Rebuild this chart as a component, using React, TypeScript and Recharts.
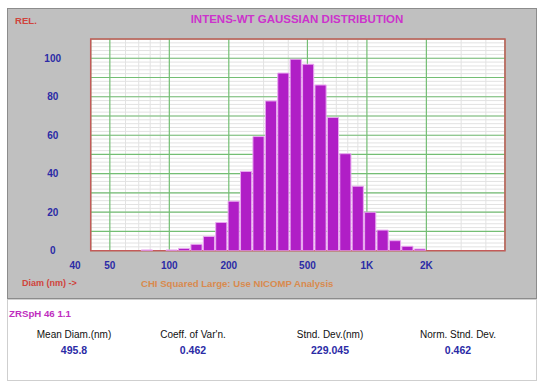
import React from 'react';
import { BarChart, Bar, XAxis, YAxis, CartesianGrid, ReferenceArea } from 'recharts';

// bin centres (nm), log spaced, and relative intensity
const diameters = [76.6, 88.5, 102.3, 118.2, 136.6, 157.9, 182.4, 210.8, 243.6, 281.5, 325.3, 375.9, 434.4, 502.0, 580.1, 670.4, 774.7, 895.2, 1034.5, 1195.5, 1381.5, 1596.5, 1844.9];
const intensity = [0.4, 0, 0.4, 1.2, 3.3, 7.4, 14.7, 25.7, 41.2, 59.3, 77.8, 92.3, 99.5, 96.9, 86.1, 69.2, 50.4, 33.5, 20.0, 10.7, 5.2, 2.3, 0.9];

const xLabelTicks = [40, 50, 100, 200, 500, 1000, 2000];
const xMinorTicks = [60, 70, 80, 90, 300, 400, 600, 700, 800, 900, 3000, 4000];
const yLabelTicks = [0, 20, 40, 60, 80, 100];
const yMajorTicks = [0, 10, 20, 30, 40, 50, 60, 70, 80, 90, 100, 110];
const yMinorTicks = [0, 2, 4, 6, 8, 10, 12, 14, 16, 18, 20, 22, 24, 26, 28, 30, 32, 34, 36, 38, 40, 42, 44, 46, 48, 50, 52, 54, 56, 58, 60, 62, 64, 66, 68, 70, 72, 74, 76, 78, 80, 82, 84, 86, 88, 90, 92, 94, 96, 98, 100, 102, 104, 106, 108, 110];

const sampleName = 'ZRSpH 46 1.1';
const statLabels = ['Mean Diam.(nm)', "Coeff. of Var'n.", 'Stnd. Dev.(nm)', 'Norm. Stnd. Dev.'];
const statValues = ['495.8', '0.462', '229.045', '0.462'];

const data = diameters.map((d, i) => ({ d, v: intensity[i] }));

const FONT = 'Arial, "Liberation Sans", sans-serif';
const BLUE = '#2B2BA6';
const GREEN = '#74BE74';

const fmtX = (v: number) => (v >= 1000 ? `${v / 1000}K` : `${v}`);

const XTick = ({ x, y, payload }: any) => {
  const first = payload.value === 40;
  return (
    <text x={x} y={y} dx={first ? -10 : 0} dy="0.35em" textAnchor={first ? 'end' : 'middle'}
      fill={BLUE} fontSize={10} fontWeight="bold" fontFamily={FONT}>
      {fmtX(payload.value)}
    </text>
  );
};

const YTick = ({ x, y, payload }: any) => (
  <text x={x} y={y} dy="0.35em" textAnchor="middle" fill={BLUE} fontSize={10} fontWeight="bold" fontFamily={FONT}>
    {payload.value}
  </text>
);

const NoLabel = () => <g />;

const statCols = [74, 193, 330, 458];

export default function App() {
  return (
    <div style={{ position: 'absolute', left: 0, top: 0, width: 545, height: 384, background: '#fff', fontFamily: FONT }}>
      <div style={{ position: 'absolute', left: 7, top: 8, width: 530, height: 291, background: '#C0C0C0', border: '1px solid #8C8C8C', boxSizing: 'border-box' }} />
      <div style={{ position: 'absolute', left: 15, top: 15, color: '#D0443C', fontSize: 9.6, fontWeight: 'bold' }}>REL.</div>
      <div style={{ position: 'absolute', left: 0, width: 594, top: 13, textAlign: 'center', color: '#CC33CC', fontSize: 11.5, fontWeight: 'bold' }}>
        INTENS-WT GAUSSIAN DISTRIBUTION
      </div>
      <div style={{ position: 'absolute', left: 0, top: 0 }}>
        <BarChart width={545} height={300} data={data} margin={{ top: 39, right: 40, left: 50.7, bottom: 19.3 }} barCategoryGap={0}>
          <CartesianGrid xAxisId="xminor" yAxisId="yminor" stroke="#E2E2E2" fill="#FFFFFF" fillOpacity={1} />
          <CartesianGrid xAxisId={0} yAxisId="ymajor" stroke={GREEN} strokeWidth={1.2} />
          <XAxis dataKey="d" type="number" scale="log" domain={[40, 5000]} allowDataOverflow ticks={xLabelTicks}
            interval={0} height={30} tickSize={0} tickMargin={15} axisLine={false} tickLine={false} tick={<XTick />} />
          <XAxis xAxisId="xminor" dataKey="d" type="number" scale="log" domain={[40, 5000]} allowDataOverflow ticks={xMinorTicks} interval={0} hide />
          <XAxis xAxisId="xedge" dataKey="d" type="number" scale="log" domain={[40, 5000]} allowDataOverflow ticks={xMinorTicks}
            orientation="top" mirror height={0} interval={0} tick={<NoLabel />} axisLine={false} tickSize={4} tickLine={{ stroke: '#8A8A8A' }} />
          <YAxis type="number" domain={[0, 110]} allowDataOverflow ticks={yLabelTicks} interval={0} width={40} tickSize={0} tickMargin={38}
            axisLine={false} tickLine={false} tick={<YTick />} />
          <YAxis yAxisId="ymajor" type="number" domain={[0, 110]} allowDataOverflow ticks={yMajorTicks} interval={0} hide />
          <YAxis yAxisId="yminor" type="number" domain={[0, 110]} allowDataOverflow ticks={yMinorTicks} interval={0} hide />
          <YAxis yAxisId="edgeL" type="number" domain={[0, 110]} allowDataOverflow ticks={yMinorTicks} interval={0} mirror width={0}
            tick={<NoLabel />} axisLine={false} tickSize={5} tickLine={{ stroke: GREEN }} />
          <YAxis yAxisId="edgeR" orientation="right" type="number" domain={[0, 110]} allowDataOverflow ticks={yMinorTicks} interval={0} mirror width={0}
            tick={<NoLabel />} axisLine={false} tickSize={5} tickLine={{ stroke: GREEN }} />
          <Bar dataKey="v" fill="#B01EC6" stroke="#E9A9F0" strokeWidth={1} barSize={12.4} isAnimationActive={false} />
          <ReferenceArea x1={40} x2={5000} y1={0} y2={110} fill="none" stroke="#C45A5A" strokeWidth={1.5} ifOverflow="visible" />
        </BarChart>
      </div>
      <div style={{ position: 'absolute', left: 22, top: 278, color: '#D0443C', fontSize: 9, fontWeight: 'bold' }}>Diam (nm) -&gt;</div>
      <div style={{ position: 'absolute', left: 141, top: 278, color: '#D98A4E', fontSize: 9.6, fontWeight: 'bold' }}>
        CHI Squared Large: Use NICOMP Analysis
      </div>
      <div style={{ position: 'absolute', left: 7, top: 299, width: 530, height: 82, border: '1px solid #CFCFCF', boxSizing: 'border-box' }} />
      <div style={{ position: 'absolute', left: 9, top: 308, color: '#C02EC0', fontSize: 9.7, fontWeight: 'bold' }}>{sampleName}</div>
      {statLabels.map((s, i) => (
        <div key={s} style={{ position: 'absolute', left: statCols[i] - 60, width: 120, top: 329, textAlign: 'center', color: '#111', fontSize: 10 }}>
          {s}
        </div>
      ))}
      {statValues.map((s, i) => (
        <div key={i} style={{ position: 'absolute', left: statCols[i] - 60, width: 120, top: 344, textAlign: 'center', color: BLUE, fontSize: 10.5, fontWeight: 'bold' }}>
          {s}
        </div>
      ))}
    </div>
  );
}
